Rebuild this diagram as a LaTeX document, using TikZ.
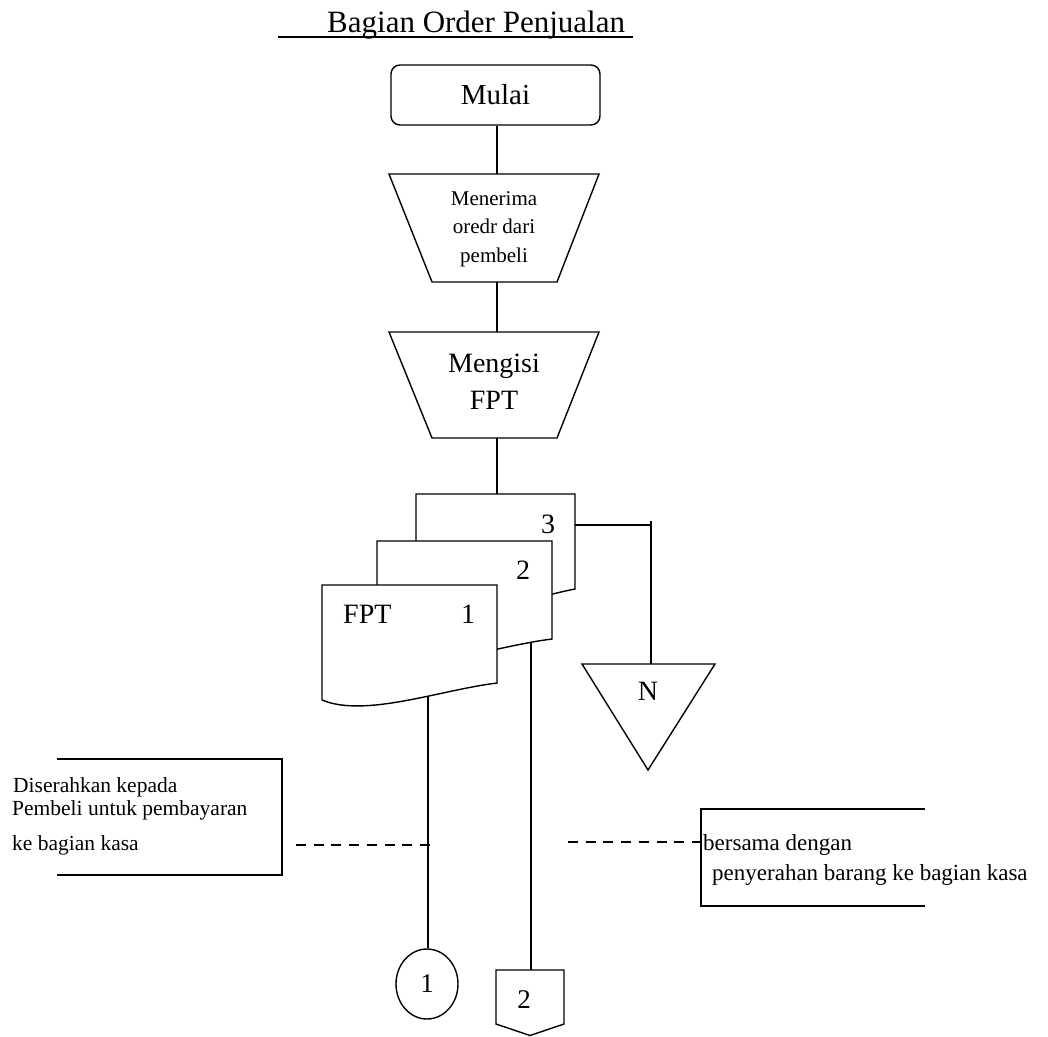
\documentclass[tikz,border=0pt]{standalone}
\usepackage{fontspec}
\setmainfont{Liberation Serif}
\usetikzlibrary{shapes.geometric}
\tikzset{
  ln/.style={line width=1.4pt, line join=miter},
  shp/.style={ln, fill=white},
  lbl/.style={inner sep=0pt, anchor=base west},
  dsh/.style={line width=1.3pt, dash pattern=on 10pt off 7.7pt},
}
\newcommand{\fs}[2]{\fontsize{#1}{#2}\selectfont}
\begin{document}
\begin{tikzpicture}[x=1pt,y=-1pt]
\useasboundingbox (0,0) rectangle (1048,1036);

% title
\node[lbl] (title) at (327,32) {\fs{31}{37}Bagian Order Penjualan};
\coordinate (ulA) at (278,37);
\coordinate (ulB) at (633,37);
\draw[line width=1.6pt] (ulA) -- (ulB);

% Mulai
\node[ln, draw, rounded corners=9pt, minimum width=209pt, minimum height=60pt, inner sep=0pt] (mulai) at (495.5,95) {\fs{29}{34}Mulai};

% trapezoid 1
\coordinate (t1top) at (497,174);
\coordinate (t1bot) at (497,282);
\draw[ln] (389,174) -- (599,174) -- (557,282) -- (432,282) -- cycle;
\node[inner sep=0pt, align=center, font=\fs{21}{28.5}] (t1txt) at (494,229) {Menerima\\oredr dari\\pembeli};

% trapezoid 2
\coordinate (t2top) at (497,332);
\coordinate (t2bot) at (497,438);
\draw[ln] (389,332) -- (599,332) -- (557,438) -- (432,438) -- cycle;
\node[inner sep=0pt, align=center, font=\fs{28}{37}] (t2txt) at (494,382) {Mengisi\\FPT};

% documents
\coordinate (d3top) at (497,494);
\coordinate (d3right) at (575,525);
\draw[shp] (416,609) -- (416,494) -- (575,494) -- (575,589) .. controls (523,599) and (455,627) .. (416,609);
\draw[shp] (377,656) -- (377,541) -- (552,541) -- (552,639) .. controls (495,646) and (420,674) .. (377,656);
\draw[shp] (322,700) -- (322,585) -- (497,585) -- (497,683) .. controls (440,690) and (365,718) .. (322,700);
\node[lbl] (d3num) at (541,533) {\fs{28}{33}3};
\node[lbl] (d2num) at (516,579) {\fs{28}{33}2};
\node[lbl] (d1name) at (343,623) {\fs{28}{33}FPT};
\node[lbl] (d1num) at (461,623) {\fs{28}{33}1};
\coordinate (d1bot) at (428,697);
\coordinate (d2bot) at (531,642);

% N (file)
\coordinate (ntop) at (651,664);
\coordinate (nknee) at (651,525);
\coordinate (nstart) at (651,521);
\draw[ln] (582,664) -- (715,664) -- (648,770) -- cycle;
\node[lbl, anchor=base] (ntxt) at (648,700) {\fs{28}{33}N};

% connectors 1
\node[ln, draw, ellipse, inner sep=0pt, minimum width=62pt, minimum height=70pt] (c1) at (427,984) {\fs{27}{32}1};
\coordinate (p2top) at (531,970);
\draw[ln] (496,970) -- (564,970) -- (564,1024) -- (530,1035.5) -- (496,1024) -- cycle;
\node[lbl, anchor=base] (p2txt) at (524,1008) {\fs{27}{32}2};

% flow lines
\draw[ln] (mulai.south -| t1top) -- (t1top);
\draw[ln] (t1bot) -- (t2top);
\draw[ln] (t2bot) -- (d3top);
\draw[ln] (d3right) -- (nknee);
\draw[ln] (nstart) -- (ntop);
\draw[ln] (d1bot) -- (d1bot |- c1.north);
\draw[ln] (d2bot) -- (p2top);

% left annotation
\coordinate (la1) at (57,759);
\coordinate (la2) at (282,759);
\coordinate (la3) at (282,875);
\coordinate (la4) at (57,875);
\draw[ln] (la1) -- (la2) -- (la3) -- (la4);
\node[lbl] (lt1) at (13,792) {\fs{21.5}{26}Diserahkan kepada};
\node[lbl] (lt2) at (12,815) {\fs{21.5}{26}Pembeli untuk pembayaran};
\node[lbl] (lt3) at (12,850) {\fs{21.5}{26}ke bagian kasa};
\coordinate (ldA) at (296,845);
\coordinate (ldB) at (432,845);
\draw[dsh] (ldA) -- (ldB);

% right annotation
\coordinate (ra1) at (925,809);
\coordinate (ra2) at (701,809);
\coordinate (ra3) at (701,906);
\coordinate (ra4) at (925,906);
\draw[ln] (ra1) -- (ra2) -- (ra3) -- (ra4);
\node[lbl] (rt1) at (703,850) {\fs{23}{28}bersama dengan};
\node[lbl] (rt2) at (712,880) {\fs{23}{28}penyerahan barang ke bagian kasa};
\coordinate (rdA) at (568,842);
\coordinate (rdB) at (701,842);
\draw[dsh] (rdA) -- (rdB);
\end{tikzpicture}
\end{document}
